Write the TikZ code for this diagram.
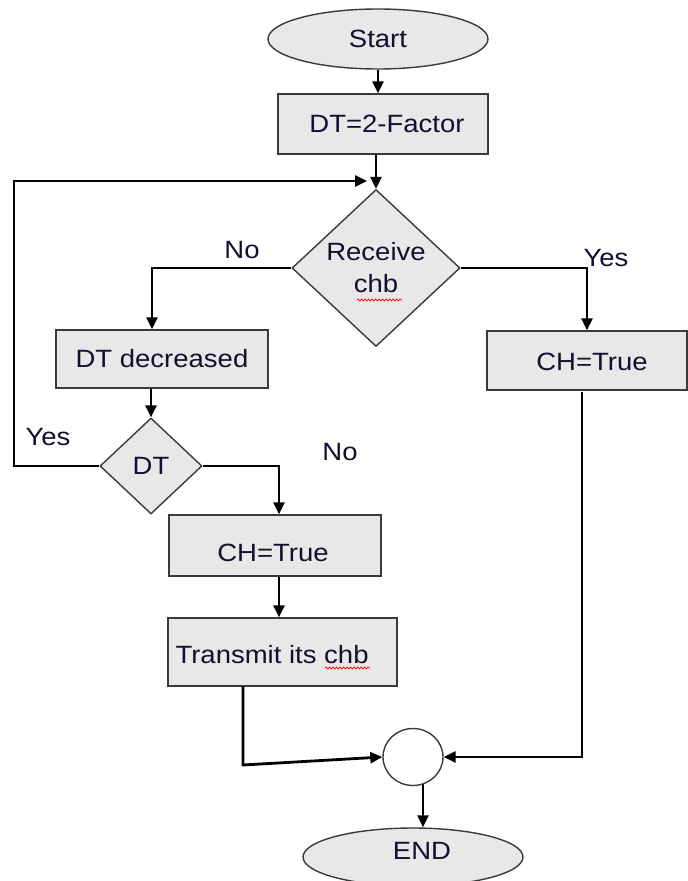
\documentclass[tikz,border=0pt]{standalone}
\usepackage{fontspec}
\setmainfont[FakeStretch=1.1]{Liberation Sans}
\usetikzlibrary{shapes.geometric,arrows.meta,decorations.pathmorphing,calc}
\definecolor{boxfill}{HTML}{E8E8E8}
\definecolor{boxline}{HTML}{3A3A3A}
\definecolor{txt}{HTML}{101030}
\begin{document}
\begin{tikzpicture}[x=1pt,y=-1pt,
  every node/.style={font=\fontsize{25}{29}\selectfont, text=txt},
  shp/.style={draw=boxline, fill=boxfill, line width=1.4pt, inner sep=0pt},
  boxn/.style={shp, rectangle},
  ovaln/.style={shp, ellipse},
  decn/.style={shp, diamond, align=center},
  conn/.style={draw=black, line width=2.8pt},
  arr/.style={conn, -{Triangle[length=12pt,width=11pt]}},
  lbl/.style={inner sep=0pt},
  wavy/.style={draw=red, line width=0.7pt, decorate, decoration={snake, amplitude=1.1pt, segment length=3.5pt}}
]
\useasboundingbox (0,0) rectangle (688,881);

% nodes
\node[ovaln, minimum width=220pt, minimum height=60pt] (start) at (378,39) {Start};
\node[boxn, minimum width=210pt, minimum height=60pt] (dt2) at (383,124) {\hspace{8pt}DT=2-Factor};
\node[decn, minimum width=168pt, minimum height=157pt] (recv) at (376,268) {\raisebox{3pt}{Receive}\\chb};
\node[boxn, minimum width=212pt, minimum height=58pt] (dtdec) at (162,359) {DT decreased};
\node[decn, minimum width=102pt, minimum height=96pt] (dtd) at (151,466) {DT};
\node[boxn, minimum width=212pt, minimum height=61pt] (ch1) at (275,545.5) {};
\node (ch1t) at (273,553) {CH=True};
\node[boxn, minimum width=229pt, minimum height=68pt] (tx) at (282.5,652) {};
\node[anchor=west] (txt) at (172,655) {Transmit its chb};
\node[boxn, minimum width=200pt, minimum height=59pt] (ch2) at (587,360.5) {};
\node (ch2t) at (592,362) {CH=True};
\node[ellipse, draw=boxline, fill=white, line width=1.4pt, minimum width=60pt, minimum height=57pt, inner sep=0pt] (join) at (413,757) {};
\node[ovaln, minimum width=220pt, minimum height=58pt] (endn) at (413,857) {};
\node (endt) at (422,851) {END};

% labels
\node[lbl] (lno1) at (242,250) {No};
\node[lbl] (lyes1) at (606,258) {Yes};
\node[lbl] (lyes2) at (48,437) {Yes};
\node[lbl] (lno2) at (340,452) {No};

% coordinates
\coordinate (loopL) at (14,181);
\coordinate (loopE) at (367,181);
\coordinate (noC) at (152,263);
\coordinate (txout) at (243,686);
\coordinate (txc) at (243,765);
\coordinate (ch2out) at (582,392);
\coordinate (joinout) at (423,784);

% connectors
\draw[arr] (start.south) -- (start.south |- dt2.north);
\draw[arr] (recv.north |- dt2.south) -- (recv.north);
\draw[arr] (dtd.west) -| (loopL) -- (loopE);
\draw[arr] (recv.west) -| (noC |- dtdec.north);
\draw[arr] (recv.east) -| (ch2.north);
\draw[arr] (dtd.north |- dtdec.south) -- (dtd.north);
\draw[arr] (dtd.east) -| ($(ch1.north)+(4,0)$);
\draw[arr] ($(ch1.south)+(4,0)$) -- ($(ch1.south |- tx.north)+(4,0)$);
\draw[arr] (txout) -- (txc) -- (join.west);
\draw[arr] (ch2out) |- (join.east);
\draw[arr] (joinout) -- (joinout |- endn.north);

% spell-check underlines
\draw[wavy] (357,300) -- (402,300);
\draw[wavy] (325,668) -- (370,668);
\end{tikzpicture}
\end{document}
